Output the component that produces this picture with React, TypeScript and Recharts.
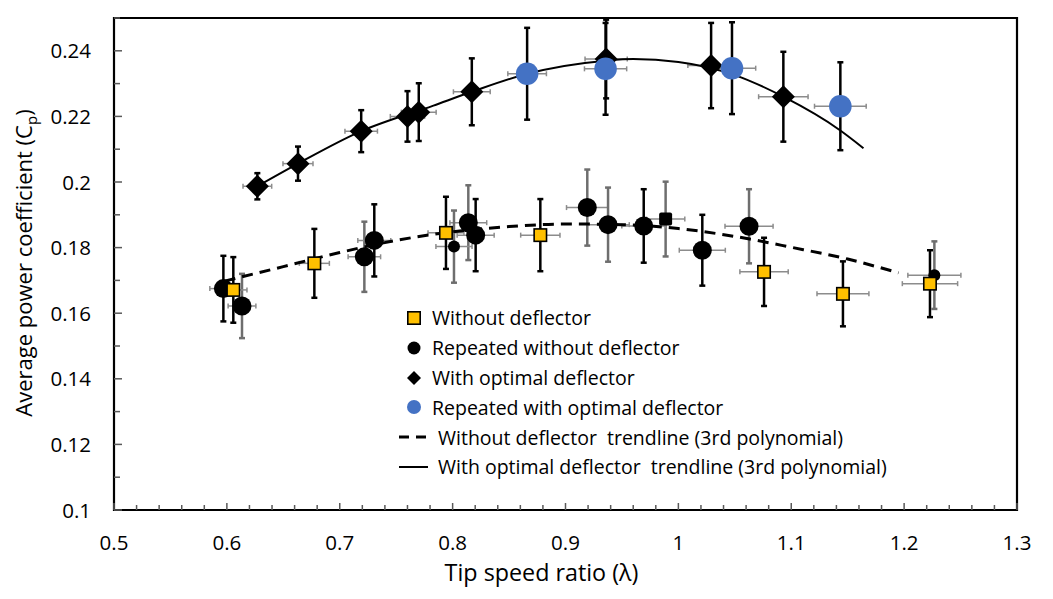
import React from "react";
import {
  ComposedChart,
  Scatter,
  Line,
  XAxis,
  YAxis,
  ErrorBar,
  ReferenceArea,
  Legend,
} from "recharts";

const FONT = "'Open Sans', Lato, sans-serif";

// axis ticks
const xMajorTicks = [0.5, 0.6, 0.7, 0.8, 0.9, 1, 1.1, 1.2, 1.3];
const yMajorTicks = [0.1, 0.12, 0.14, 0.16, 0.18, 0.2, 0.22, 0.24];

// Without deflector (yellow squares)
const withoutX = [0.6057, 0.6775, 0.7941, 0.8777, 1.0759, 1.1458, 1.2229];
const withoutY = [0.1671, 0.1752, 0.1845, 0.1838, 0.1726, 0.1659, 0.169];
const withoutEy = [0.01, 0.0105, 0.011, 0.011, 0.0104, 0.0099, 0.0102];
const withoutEx = [0.0121, 0.0133, 0.0159, 0.0174, 0.0214, 0.023, 0.0245];

// Repeated without deflector (black circles), black error bars
const repAX = [0.5969, 0.7306, 0.8204, 0.9693, 1.0212];
const repAY = [0.1675, 0.1822, 0.1838, 0.1866, 0.1792];
const repAEy = [0.01, 0.011, 0.011, 0.0112, 0.0108];
const repAEx = [0.012, 0.0146, 0.0164, 0.0194, 0.0204];

// Repeated without deflector, grey error bars
const repBX = [0.6134, 0.7218, 0.8139, 0.9193, 0.9377, 1.0626];
const repBY = [0.1622, 0.1772, 0.1876, 0.1922, 0.187, 0.1865];
const repBEy = [0.0098, 0.0107, 0.0114, 0.0116, 0.0113, 0.0113];
const repBEx = [0.0123, 0.0144, 0.0163, 0.0184, 0.0188, 0.0213];

// Repeated without deflector, small circles
const repCX = [0.8012, 1.2268];
const repCY = [0.1803, 0.1716];
const repCEy = [0.011, 0.0103];
const repCEx = [0.016, 0.0235];

// black square point
const repDX = [0.9887];
const repDY = [0.1887];
const repDEy = [0.0114];
const repDEx = [0.017];

// With optimal deflector (diamonds)
const optX = [0.627, 0.663, 0.719, 0.76, 0.77, 0.817, 0.936, 1.029, 1.093];
const optY = [0.1987, 0.2056, 0.2155, 0.22, 0.2213, 0.2275, 0.2375, 0.2355, 0.226];
const optEy = [0.004, 0.0052, 0.0064, 0.0077, 0.0088, 0.0102, 0.012, 0.013, 0.0137];
const optEx = [0.0127, 0.0133, 0.0144, 0.0152, 0.0154, 0.0163, 0.0187, 0.0206, 0.0219];

// Repeated with optimal deflector (blue circles)
const repOptX = [0.866, 0.9355, 1.0475, 1.1435];
const repOptY = [0.233, 0.2345, 0.2347, 0.2231];
const repOptEy = [0.014, 0.014, 0.014, 0.0134];
const repOptEx = [0.0171, 0.0187, 0.021, 0.0229];

// trendlines
const trendWithoutX = [0.598, 0.65, 0.7, 0.75, 0.8, 0.85, 0.9, 0.95, 1.0, 1.05, 1.1, 1.15, 1.195];
const trendWithoutY = [0.1698, 0.1742, 0.1785, 0.1822, 0.1848, 0.1864, 0.1872, 0.187, 0.1858, 0.1834, 0.1801, 0.1765, 0.1723];
const trendOptX = [0.627, 0.663, 0.719, 0.783, 0.817, 0.866, 0.936, 0.96, 1.0, 1.05, 1.093, 1.1435, 1.164];
const trendOptY = [0.1987, 0.2056, 0.2155, 0.2233, 0.2275, 0.233, 0.237, 0.2375, 0.2366, 0.2326, 0.226, 0.2157, 0.2103];

const legendLabels = [
  "Without deflector",
  "Repeated without deflector",
  "With optimal deflector",
  "Repeated with optimal deflector",
  "Without deflector  trendline (3rd polynomial)",
  "With optimal deflector  trendline (3rd polynomial)",
];

const pts = (xs: number[], ys: number[], eys: number[], exs: number[]) =>
  xs.map((x, i) => ({ x, y: ys[i], ey: eys[i], ex: exs[i] }));
const line = (xs: number[], ys: number[]) => xs.map((x, i) => ({ x, y: ys[i] }));

const round2 = (v: number) => Math.round(v * 100) / 100;
const xTicks: number[] = [];
for (let i = 0; i <= 40; i++) xTicks.push(round2(0.5 + i * 0.02));
const yTicks: number[] = [];
for (let i = 0; i <= 15; i++) yTicks.push(round2(0.1 + i * 0.01));

const XTick = (props: any) => {
  const { x, y, payload } = props;
  const major = xMajorTicks.includes(payload.value);
  return (
    <g>
      <line x1={x} x2={x} y1={y} y2={y - (major ? 7 : 5)} stroke="#595959" strokeWidth={1.5} />
      {major && (
        <text x={x} y={y + 40} textAnchor="middle" fontSize={20.5} fontFamily={FONT} fill="#000">
          {String(payload.value)}
        </text>
      )}
    </g>
  );
};

const YTick = (props: any) => {
  const { x, y, payload } = props;
  const major = yMajorTicks.includes(payload.value);
  return (
    <g>
      <line x1={x} x2={x + (major ? 8 : 6)} y1={y} y2={y} stroke="#595959" strokeWidth={1.5} />
      {major && (
        <text x={x - 23} y={y} dy={7.5} textAnchor="end" fontSize={20.5} fontFamily={FONT} fill="#000">
          {String(payload.value)}
        </text>
      )}
    </g>
  );
};

const Square = (p: any) => (
  <rect x={p.cx - 6.2} y={p.cy - 6.2} width={12.4} height={12.4} fill="#FFC000" stroke="#000" strokeWidth={1.6} />
);
const BlackSquare = (p: any) => (
  <rect x={p.cx - 6.5} y={p.cy - 6.5} width={13} height={13} rx={2} fill="#000" />
);
const Dot = (r: number, fill: string) => (p: any) => <circle cx={p.cx} cy={p.cy} r={r} fill={fill} />;
const Diamond = (p: any) => (
  <polygon
    points={`${p.cx},${p.cy - 11.5} ${p.cx + 11.5},${p.cy} ${p.cx},${p.cy + 11.5} ${p.cx - 11.5},${p.cy}`}
    fill="#000"
  />
);

const Bars = (yColor: string) => [
  <ErrorBar key="ex" dataKey="ex" direction="x" width={2.5} stroke="#8c8c8c" strokeWidth={1.5} />,
  <ErrorBar key="ey" dataKey="ey" direction="y" width={3} stroke={yColor} strokeWidth={2.5} />,
];

const LegendBox = () => {
  const marks = [
    <rect key="a" x={11.8} y={8.8} width={12.4} height={12.4} fill="#FFC000" stroke="#000" strokeWidth={1.6} />,
    <circle key="b" cx={18} cy={15} r={6.5} fill="#000" />,
    <polygon key="c" points="18,8 25,15 18,22 11,15" fill="#000" />,
    <circle key="d" cx={18} cy={15} r={7} fill="#4472C4" />,
  ];
  return (
    <div style={{ fontFamily: FONT, fontSize: 19.5, color: "#000" }}>
      {legendLabels.map((label, i) => (
        <div key={label} style={{ display: "flex", alignItems: "center", height: 29.8, whiteSpace: "pre" }}>
          {i < 4 ? (
            <svg width={36} height={30}>{marks[i]}</svg>
          ) : (
            <svg width={42} height={30}>
              <line
                x1={3}
                x2={32}
                y1={15}
                y2={15}
                stroke="#000"
                strokeWidth={i === 4 ? 3 : 2}
                strokeDasharray={i === 4 ? "10 7" : undefined}
              />
            </svg>
          )}
          <span>{label}</span>
        </div>
      ))}
    </div>
  );
};

export default function App() {
  return (
    <div style={{ width: 1037, height: 583 }}>
      <ComposedChart width={1037} height={583} margin={{ top: 10, right: 28, bottom: 0, left: 0 }}>
        <XAxis
          dataKey="x"
          type="number"
          domain={[0.5, 1.3]}
          ticks={xTicks}
          interval={0}
          tickSize={0}
          tickMargin={0}
          tickLine={false}
          axisLine={false}
          tick={<XTick />}
          height={81}
          label={{
            content: (p: any) => (
              <text
                x={p.viewBox.x + p.viewBox.width / 2 - 24}
                y={p.viewBox.y + 71}
                textAnchor="middle"
                fontSize={23.3}
                fontFamily={FONT}
                fill="#000"
              >
                Tip speed ratio (λ)
              </text>
            ),
          }}
        />
        <YAxis
          type="number"
          domain={[0.1, 0.25]}
          ticks={yTicks}
          interval={0}
          tickSize={0}
          tickMargin={0}
          tickLine={false}
          axisLine={false}
          tick={<YTick />}
          width={106}
          label={{
            content: (p: any) => {
              const cy = p.viewBox.y + p.viewBox.height / 2 - 1;
              return (
                <g transform={`translate(24 ${cy}) rotate(-90)`}>
                  <text x={0} y={0} textAnchor="middle" fontSize={22} fontFamily={FONT} fill="#000">
                    Average power coefficient (C
                    <tspan fontSize={15} dy={5}>p</tspan>
                    <tspan dy={-5}>)</tspan>
                  </text>
                </g>
              );
            },
          }}
        />
        <ReferenceArea x1={0.5} x2={1.3} y1={0.1} y2={0.25} fill="none" stroke="#000" strokeWidth={2.2} />
        <Scatter data={pts(repBX, repBY, repBEy, repBEx)} dataKey="y" shape={Dot(9.5, "#000")} isAnimationActive={false}>
          {Bars("#6e6e6e")}
        </Scatter>
        <Scatter data={pts(repCX, repCY, repCEy, repCEx)} dataKey="y" shape={Dot(6, "#000")} isAnimationActive={false}>
          {Bars("#6e6e6e")}
        </Scatter>
        <Scatter data={pts(repDX, repDY, repDEy, repDEx)} dataKey="y" shape={BlackSquare} isAnimationActive={false}>
          {Bars("#6e6e6e")}
        </Scatter>
        <Scatter data={pts(repAX, repAY, repAEy, repAEx)} dataKey="y" shape={Dot(9.5, "#000")} isAnimationActive={false}>
          {Bars("#000")}
        </Scatter>
        <Scatter data={pts(withoutX, withoutY, withoutEy, withoutEx)} dataKey="y" shape={Square} isAnimationActive={false}>
          {Bars("#000")}
        </Scatter>
        <Scatter data={pts(optX, optY, optEy, optEx)} dataKey="y" shape={Diamond} isAnimationActive={false}>
          {Bars("#000")}
        </Scatter>
        <Scatter data={pts(repOptX, repOptY, repOptEy, repOptEx)} dataKey="y" shape={Dot(11.3, "#4472C4")} isAnimationActive={false}>
          {Bars("#000")}
        </Scatter>
        <Line
          data={line(trendWithoutX, trendWithoutY)}
          dataKey="y"
          type="monotone"
          stroke="#000"
          strokeWidth={3}
          strokeDasharray="11 7"
          dot={false}
          isAnimationActive={false}
        />
        <Line
          data={line(trendOptX, trendOptY)}
          dataKey="y"
          type="monotone"
          stroke="#000"
          strokeWidth={2}
          dot={false}
          isAnimationActive={false}
        />
        <Legend
          layout="horizontal"
          verticalAlign="middle"
          align="center"
          content={() => <LegendBox />}
          wrapperStyle={{ left: 388, top: 295, width: "auto", height: "auto" }}
        />
      </ComposedChart>
    </div>
  );
}
